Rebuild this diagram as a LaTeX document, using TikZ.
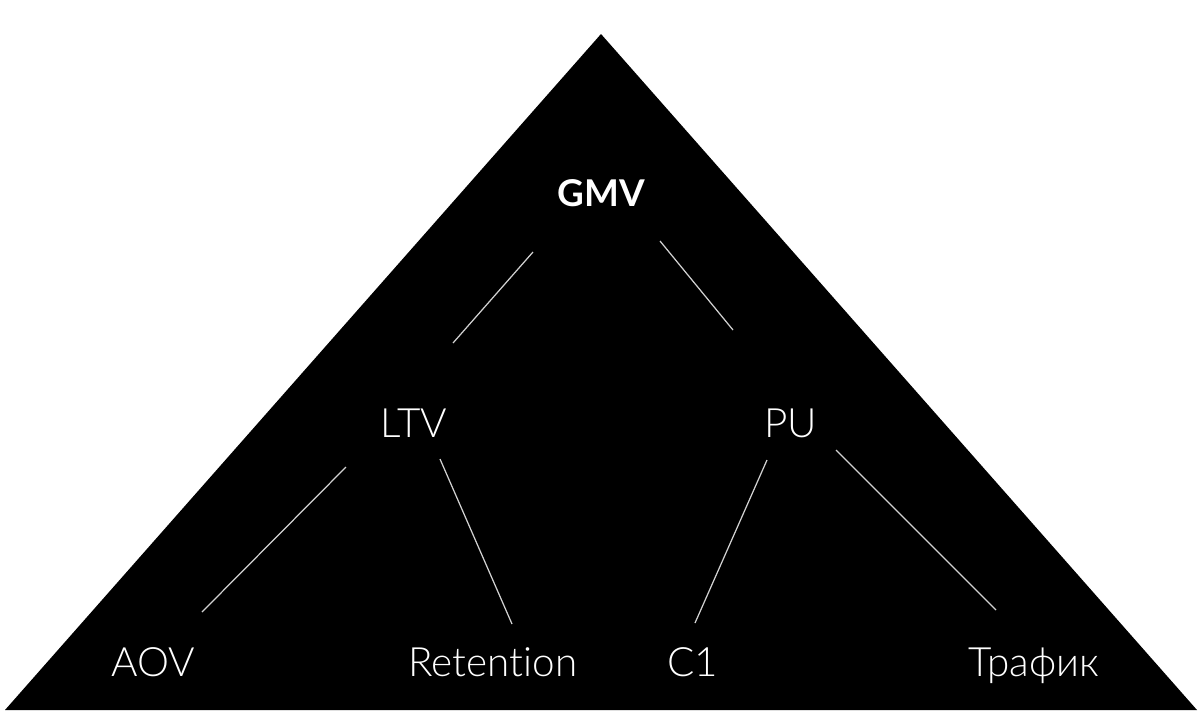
\documentclass[tikz,border=0pt]{standalone}
\usepackage{fontspec}
\setmainfont{Lato}[UprightFont=* Light, BoldFont=* Bold, RawFeature={-liga;-dlig}]
\usepackage{xcolor}

\definecolor{linegray}{HTML}{D2D2D2}

\tikzset{
	metric/.style={text=white, inner sep=0pt, anchor=base, font=\fontsize{23}{27}\selectfont},
	topmetric/.style={metric, font=\fontsize{21}{25}\selectfont\bfseries},
	link/.style={draw=linegray, line width=0.7pt}
}

\begin{document}
\begin{tikzpicture}[x=0.02cm, y=-0.02cm]
		\useasboundingbox (0,0) rectangle (1200,721);
		\fill[white] (0,0) rectangle (1200,721);
		\fill[black] (5,710) -- (601,34) -- (1197,710) -- cycle;
		
		\node[topmetric] (gmv) at (601,206) {GMV};
		
		\node[metric] (ltv) at (414,437) {LTV};
		\node[metric] (pu) at (791,437) {PU};
		
		\node[metric] (aov) at (153,676) {AOV};
		\node[metric] (retention) at (493,676) {Retention};
		\node[metric] (c1) at (693,676) {C1};
		\node[metric] (traffic) at (1034,676) {Трафик};
		
		\draw[link] ([shift={(-68,46)}]gmv.base) -- ([shift={(39,-94)}]ltv.base);
		\draw[link] ([shift={(59,35)}]gmv.base) -- ([shift={(-58,-107)}]pu.base);
		
		\draw[link] ([shift={(-68,30)}]ltv.base) -- ([shift={(49,-64)}]aov.base);
		\draw[link] ([shift={(26,22)}]ltv.base) -- ([shift={(19,-52)}]retention.base);
		
		\draw[link] ([shift={(-24,23)}]pu.base) -- ([shift={(2,-53)}]c1.base);
		\draw[link] ([shift={(45,13)}]pu.base) -- ([shift={(-38,-66)}]traffic.base);
	\end{tikzpicture}
\end{document}
